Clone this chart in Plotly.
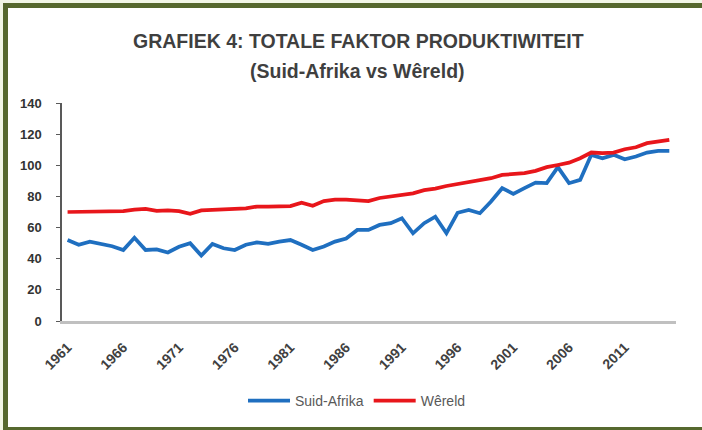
import plotly.graph_objects as go

years = list(range(1961, 2016))
suid_afrika = [52, 49, 51, 49.5, 48, 45.6, 53.5, 45.6, 46, 44, 47.7, 50, 42, 49.5, 46.7, 45.6, 49, 50.5,
               49.5, 51, 52, 49, 45.6, 47.8, 51, 53, 58.5, 58.5, 61.7, 62.8, 66, 56.3, 62.8, 67, 56.4, 69.5,
               71.3, 69.2, 76.7, 85.3, 81.6, 85.3, 88.9, 88.5, 98.8, 88.5, 90.6, 106.7, 104.5, 106.7, 103.9,
               105.6, 108.2, 109.2, 109.2]
wereld = [70, 70, 70.3, 70.5, 70, 70.5, 71.5, 72, 70.8, 71, 70.5, 68.8, 71, 71.2, 71.5, 72, 72.4, 73.5,
          73.5, 73.5, 73.8, 76, 74, 77, 78, 78, 77.5, 77, 79, 80, 81, 82, 84, 85, 86.7, 88,
          89.5, 91, 91.7, 93.8, 94.5, 95, 96.4, 98.8, 100.2, 101.7, 104.5, 108.2, 107.8, 108.2, 110.3,
          111.6, 114.2, 115.2, 116.3]
tick_years = list(range(1961, 2016, 5))
title_line1 = "GRAFIEK 4: TOTALE FAKTOR PRODUKTIWITEIT"
title_line2 = "(Suid-Afrika vs Wêreld)"

W, H = 702, 430
L, R, T, B = 62, 676, 103, 321  # plot area in pixels


def px(x):
    return (x - L) / (R - L)


def py(y):
    return (B - y) / (B - T)


fig = go.Figure()
fig.add_trace(go.Scatter(x=years, y=suid_afrika, mode="lines", name="Suid-Afrika",
                         line=dict(color="#1f6fc0", width=3.75)))
fig.add_trace(go.Scatter(x=years, y=wereld, mode="lines", name="Wêreld",
                         line=dict(color="#e8161b", width=3.75)))

border = dict(color="#56682e", width=5)
fig.update_layout(
    width=W, height=H,
    margin=dict(l=L, r=W - R, t=T, b=H - B, autoexpand=False),
    paper_bgcolor="white", plot_bgcolor="white",
    font=dict(family="Liberation Sans, Arial, sans-serif", color="#404040"),
    showlegend=True,
    legend=dict(orientation="h", xref="paper", x=px(243), xanchor="left",
                yref="container", y=1 - 401 / H, yanchor="middle", itemwidth=42,
                font=dict(size=14, color="#595959"), bgcolor="rgba(0,0,0,0)"),
    annotations=[
        dict(text="<b>" + title_line1 + "</b>", xref="paper", yref="paper", x=px(358), y=py(41),
             xanchor="center", yanchor="middle", showarrow=False,
             font=dict(size=19.5, color="#3f3f3f", family="Liberation Sans, sans-serif")),
        dict(text="<b>" + title_line2 + "</b>", xref="paper", yref="paper", x=px(357), y=py(71),
             xanchor="center", yanchor="middle", showarrow=False,
             font=dict(size=19.5, color="#3f3f3f", family="Liberation Sans, sans-serif")),
    ],
    shapes=[
        dict(type="rect", xref="paper", yref="paper", x0=px(0), x1=px(W), y0=py(H), y1=py(0),
             line=dict(width=0), fillcolor="#f2f6e6", layer="below"),
        dict(type="rect", xref="paper", yref="paper", x0=px(5.5), x1=px(W), y0=py(429.5), y1=py(5.5),
             line=dict(width=0), fillcolor="white", layer="below"),
        dict(type="line", xref="paper", yref="paper", x0=px(3), x1=px(W), y0=py(5.5), y1=py(5.5),
             line=border, layer="below"),
        dict(type="line", xref="paper", yref="paper", x0=px(5.5), x1=px(5.5), y0=py(3), y1=py(H),
             line=border, layer="below"),
        dict(type="line", xref="paper", yref="paper", x0=px(3), x1=px(W), y0=py(429.5), y1=py(429.5),
             line=border, layer="below"),
    ],
)
fig.update_xaxes(range=[1960.5, 2015.6], tickvals=tick_years, ticktext=[str(y) for y in tick_years],
                 tickangle=-45, showgrid=False, zeroline=False, showline=True,
                 linecolor="#c0c0c0", linewidth=2.5, ticks="", ticklabelstandoff=10,
                 tickfont=dict(size=14, color="#404040", family="Liberation Sans, sans-serif", weight="bold"))
fig.update_yaxes(range=[0, 140], dtick=20, showgrid=False, zeroline=False, showline=True,
                 linecolor="#595959", linewidth=1.5, ticks="outside", ticklen=4, tickcolor="#595959",
                 ticklabelstandoff=12,
                 tickfont=dict(size=13, color="#333333", family="Liberation Sans, sans-serif", weight="bold"))

fig.write_html("out.html", config={"displayModeBar": False},
               post_script="document.body.style.margin='0px';"
                           "document.body.style.overflow='hidden';"
                           "document.documentElement.style.overflow='hidden';")
